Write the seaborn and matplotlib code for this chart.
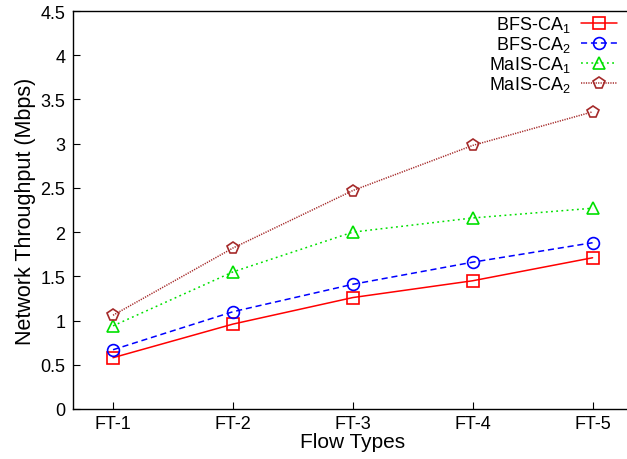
import numpy as np
import pandas as pd
import matplotlib
matplotlib.use("Agg")
import matplotlib.pyplot as plt
import seaborn as sns

# data
flow_types = ["FT-1", "FT-2", "FT-3", "FT-4", "FT-5"]
bfs_ca1 = [0.58, 0.96, 1.26, 1.45, 1.71]
bfs_ca2 = [0.67, 1.10, 1.41, 1.66, 1.88]
mais_ca1 = [0.94, 1.55, 2.00, 2.16, 2.27]
mais_ca2 = [1.06, 1.82, 2.47, 2.98, 3.36]

series_names = ["BFS-CA$_1$", "BFS-CA$_2$", "MaIS-CA$_1$", "MaIS-CA$_2$"]
series_values = [bfs_ca1, bfs_ca2, mais_ca1, mais_ca2]

sns.set_style("ticks")
plt.rcParams["font.family"] = ["Liberation Sans", "DejaVu Sans"]
plt.rcParams["mathtext.fontset"] = "custom"
plt.rcParams["mathtext.rm"] = "Liberation Sans"
plt.rcParams["mathtext.it"] = "Liberation Sans:italic"
plt.rcParams["text.color"] = "black"
plt.rcParams["axes.labelcolor"] = "black"
plt.rcParams["xtick.color"] = "black"
plt.rcParams["ytick.color"] = "black"

# styles per series
colors = ["#ff0000", "#0000ff", "#00e000", "#a52a2a"]
dashes = [(None, None), (4, 2.5), (1.2, 2.2), (0.8, 0.8)]
markers = ["s", "o", "^", "p"]
msizes = [9, 8.5, 9, 8.5]

df = pd.DataFrame({
    "flow": flow_types * len(series_names),
    "value": np.concatenate(series_values),
    "series": np.repeat(series_names, len(flow_types)),
})
df["x"] = np.tile(np.arange(len(flow_types)), len(series_names))

fig = plt.figure(figsize=(6.27, 4.6), dpi=100)
ax = fig.add_axes([0.1172, 0.1087, 0.891, 0.8652])

for i, name in enumerate(series_names):
    sub = df[df["series"] == name]
    sns.lineplot(data=sub, x="x", y="value", ax=ax, color=colors[i],
                 marker=markers[i], markersize=msizes[i],
                 markerfacecolor="none", markeredgecolor=colors[i],
                 markeredgewidth=1.2, linewidth=1.1, label=name)
    line = ax.get_lines()[-1]
    if dashes[i][0] is not None:
        line.set_dashes(dashes[i])

ax.set_xlim(-0.33, 4.33)
ax.set_ylim(0, 4.5)
ax.set_xticks(range(len(flow_types)))
ax.set_xticklabels(flow_types)
ax.set_yticks(np.arange(0, 4.51, 0.5))
ax.set_yticklabels(["%g" % v for v in np.arange(0, 4.51, 0.5)])
ax.tick_params(direction="in", length=5, width=0.8, labelsize=13, pad=6)
ax.tick_params(axis="x", pad=4)
for s in ax.spines.values():
    s.set_linewidth(1.0)
    s.set_color("black")

ax.set_xlabel("Flow Types", fontsize=15, labelpad=0)
ax.set_ylabel("Network Throughput (Mbps)", fontsize=15.5, labelpad=3)

leg = ax.legend(loc="upper right", bbox_to_anchor=(617 / 627, 1 - 15 / 460),
                bbox_transform=fig.transFigure, frameon=False, markerfirst=False,
                fontsize=13, handlelength=2.0, handletextpad=0.55,
                labelspacing=0.0, borderpad=0, borderaxespad=0)

fig.savefig("out.png", dpi=100)
